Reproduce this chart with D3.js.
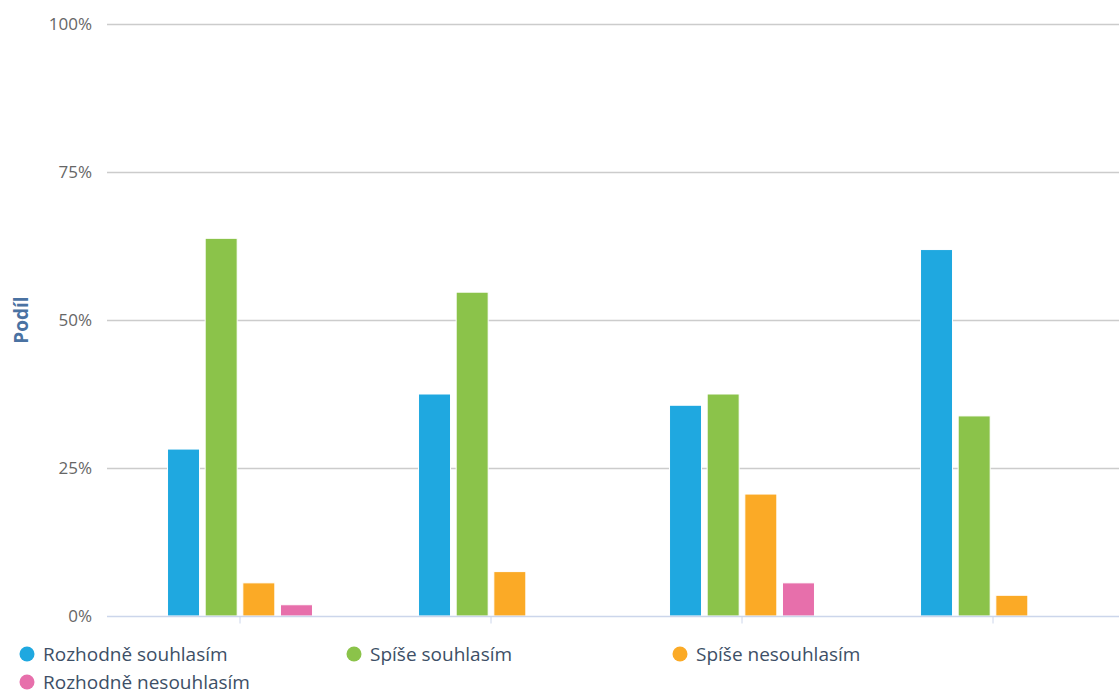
<!DOCTYPE html>
<html><head><meta charset="utf-8">
<script src="https://cdn.jsdelivr.net/npm/d3@7"></script>
<style>
html,body{margin:0;padding:0;background:#fff;}
svg{display:block;font-family:"Open Sans",sans-serif;}
</style></head>
<body>
<svg id="chart" width="1119" height="695"></svg>
<script>
const categories = ["Výrok 1", "Výrok 2", "Výrok 3", "Výrok 4"];
const seriesNames = ["Rozhodně souhlasím", "Spíše souhlasím", "Spíše nesouhlasím", "Rozhodně nesouhlasím"];
const rozhodneSouhlasim = [28.2, 37.5, 35.6, 61.9];
const spiseSouhlasim = [63.8, 54.7, 37.5, 33.8];
const spiseNesouhlasim = [5.6, 7.5, 20.6, 3.5];
const rozhodneNesouhlasim = [1.9, 0, 5.6, 0];
const yTicks = [0, 25, 50, 75, 100];
const colors = ["#1fa8e0", "#8bc34a", "#fbaa26", "#e76fab"];

const values = [rozhodneSouhlasim, spiseSouhlasim, spiseNesouhlasim, rozhodneNesouhlasim];
const svg = d3.select("#chart");
const plotLeft = 107, plotRight = 1119, plotTop = 24, plotBottom = 616;

const y = d3.scaleLinear().domain([0, 100]).range([plotBottom, plotTop]);
const x0 = d3.scaleBand().domain(categories).range([114.5, 1118.5]).paddingInner(0).paddingOuter(0);
const groupPad = 0.2;
const x1 = d3.scaleBand().domain(seriesNames)
  .range([x0.bandwidth()*groupPad, x0.bandwidth()*(1-groupPad)]).paddingInner(0.15).paddingOuter(0.075);

// gridlines
svg.append("g").selectAll("line").data(yTicks.filter(d => d > 0)).join("line")
  .attr("x1", plotLeft).attr("x2", plotRight)
  .attr("y1", d => y(d)+0.5).attr("y2", d => y(d)+0.5)
  .attr("stroke", "#cccccc").attr("stroke-width", 1.3);

// y labels
const yAxis = d3.axisLeft(y).tickValues(yTicks).tickFormat(d => d + "%").tickSize(0).tickPadding(0);
const ya = svg.append("g").attr("transform", `translate(92,0)`).call(yAxis);
ya.select(".domain").remove();
ya.selectAll("text").attr("fill", "#666666").style("font-size", "17px").style("font-family", "Open Sans, sans-serif");

// axis title
svg.append("text").attr("transform", "translate(28,320) rotate(-90)")
  .attr("text-anchor", "middle").attr("fill", "#4a72a2")
  .style("font-size", "19px").style("font-weight", "bold").text("Podíl");

// bars
const groups = svg.append("g").selectAll("g").data(categories).join("g")
  .attr("transform", d => `translate(${x0(d)},0)`);
groups.selectAll("rect").data((c, i) => seriesNames.map((s, j) => ({s, j, v: values[j][i]})))
  .join("rect")
  .filter(d => d.v > 0)
  .attr("x", d => x1(d.s)).attr("width", x1.bandwidth())
  .attr("y", d => y(d.v)).attr("height", d => y(0) - y(d.v))
  .attr("fill", d => colors[d.j]).attr("stroke", "#ffffff").attr("stroke-width", 1);

// x axis
const xAxis = d3.axisBottom(x0).tickSize(7).tickFormat("");
const xa = svg.append("g").attr("transform", `translate(0,${plotBottom+0.5})`).call(xAxis);
xa.select(".domain").remove();
xa.selectAll(".tick line").attr("stroke", "#ccd6eb");
svg.append("line").attr("x1", plotLeft).attr("x2", plotRight)
  .attr("y1", plotBottom+0.5).attr("y2", plotBottom+0.5).attr("stroke", "#ccd6eb").attr("stroke-width", 1.5);

// legend
const legendPos = [[27, 654], [354, 654], [680, 654], [27, 682]];
const lg = svg.append("g").selectAll("g").data(seriesNames).join("g")
  .attr("transform", (d, i) => `translate(${legendPos[i][0]},${legendPos[i][1]})`);
lg.append("circle").attr("r", 7.5).attr("fill", (d, i) => colors[i]);
lg.append("text").attr("x", 16).attr("dy", "0.35em").attr("fill", "#3d4f66")
  .style("font-size", "19px").text(d => d);
</script>
</body></html>
